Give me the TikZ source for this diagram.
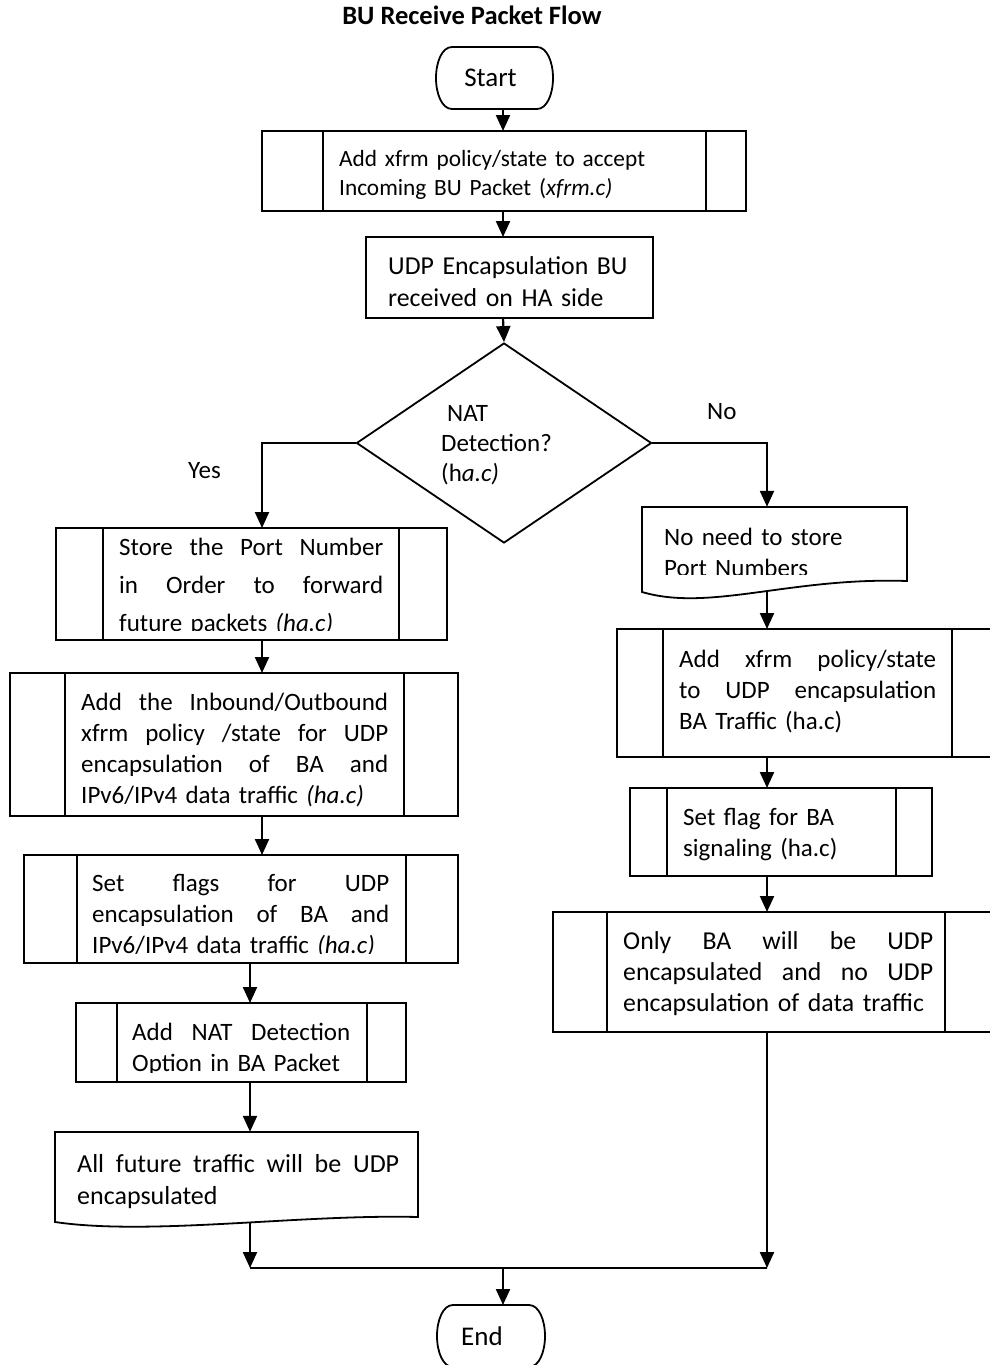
\documentclass[tikz,border=0pt]{standalone}
\usepackage{fontspec}
\setmainfont{Carlito}
\usetikzlibrary{arrows.meta,shapes.geometric}

% one justified line: the spaces stretch to fill the text width
\newcommand\jline[1]{\leavevmode\hbox to \linewidth{\spaceskip=0.22em plus 1fil\relax#1}\\}

% predefined-process box: name, left, top, right, bottom, inner left, inner right
\newcommand\procbox[7]{%
  \node[boxshape, minimum width={#4-#2}, minimum height={#5-#3}] (#1) at ({(#2+#4)/2},{(#3+#5)/2}) {};
  \draw[boxline] (#1.north -| #6,0) -- (#1.south -| #6,0)
                 (#1.north -| #7,0) -- (#1.south -| #7,0);}

% terminal outline with bulging ends
\newcommand\termoutline[1]{%
  \draw[boxline] ([xshift=16pt]#1.north west) -- ([xshift=-16pt]#1.north east)
    .. controls ([xshift=-6pt]#1.north east) and ([yshift=16pt]#1.east) .. (#1.east)
    .. controls ([yshift=-16pt]#1.east) and ([xshift=-6pt]#1.south east) .. ([xshift=-16pt]#1.south east)
    -- ([xshift=16pt]#1.south west)
    .. controls ([xshift=6pt]#1.south west) and ([yshift=-16pt]#1.west) .. (#1.west)
    .. controls ([yshift=16pt]#1.west) and ([xshift=6pt]#1.north west) .. cycle;}

\tikzset{
  boxline/.style={line width=1.8pt, line join=miter},
  boxshape/.style={draw, rectangle, boxline, inner sep=0pt, outer sep=0pt},
  flowline/.style={line width=2.2pt},
  arr/.style={flowline, -{Triangle[length=16pt,width=14pt]}},
  txt/.style={inner sep=0pt, anchor=base west, align=left,
              font=\fontsize{25}{31}\selectfont},
  termtext/.style={inner sep=0pt, outer sep=0pt, rectangle,
              font=\fontsize{27}{32}\selectfont},
}

\begin{document}
\begin{tikzpicture}[x=1pt, y=-1pt]
\fill[white] (0,0) rectangle (990,1365);
\useasboundingbox (0,0) rectangle (990,1365);

% connector columns and junction points
\coordinate (colM) at (503,0);
\coordinate (colY) at (262,0);
\coordinate (colL) at (250,0);
\coordinate (colR) at (767,0);
\coordinate (mergeL) at (250,1268);
\coordinate (mergeR) at (767,1268);

% title
\node[anchor=base, inner sep=0pt, font=\bfseries\fontsize{26.5}{30}\selectfont] (title) at (472,24) {BU Receive Packet Flow};

% start
\node[termtext, minimum width=117, minimum height=62] (start) at (494.5,78) {\hspace*{-8pt}Start};
\termoutline{start}

% main column
\procbox{b1}{262}{131}{746}{211}{323}{706}
\node[txt, text width=370pt, font=\fontsize{23.3}{29.5}\selectfont] (t1) at (339,166)
  {Add xfrm policy/state to accept\\Incoming BU Packet (\textit{xfrm.c)}};

\node[boxshape, minimum width=287, minimum height=81] (b2) at (509.5,277.5) {};
\node[txt, text width=260pt, font=\fontsize{25.8}{32}\selectfont] (t2) at (388,274) {UDP Encapsulation BU\\received on HA side};

% decision
\node[draw, diamond, boxline, inner sep=0pt, minimum width=295, minimum height=200] (dia) at (504,443) {};
\node[txt, text width=120pt, font=\fontsize{25}{30}\selectfont] (tdia) at (441,421)
  {\hspace*{6pt}NAT\\Detection?\\(h\textit{a.c)}};
\node[txt] (yes) at (188,478) {Yes};
\node[txt] (no) at (707,419) {No};

% left branch
\procbox{b3}{56}{528}{447}{640}{103}{399}
\begin{scope}
  \clip (b3.north west) rectangle ([yshift=10pt]b3.south east);
  \node[txt, text width=264pt, font=\fontsize{25}{38}\selectfont] (t3) at (119,555)
    {\jline{Store the Port Number}\jline{in Order to forward}future packets \textit{(ha.c)}};
\end{scope}

\procbox{b4}{10}{673}{458}{816}{65}{404}
\begin{scope}
  \clip (b4.north west) rectangle ([yshift=9pt]b4.south east);
  \node[txt, text width=307pt] (t4) at (81,710)
    {\jline{Add the Inbound/Outbound}\jline{xfrm policy /state for UDP}\jline{encapsulation of BA and}IPv6/IPv4 data traffic \textit{(ha.c)}};
\end{scope}

\procbox{b5}{24}{855}{458}{963}{77}{406}
\begin{scope}
  \clip (b5.north west) rectangle ([yshift=10pt]b5.south east);
  \node[txt, text width=297pt] (t5) at (92,891)
    {\jline{Set flags for UDP}\jline{encapsulation of BA and}IPv6/IPv4 data traffic \textit{(ha.c)}};
\end{scope}

\procbox{b6}{76}{1003}{406}{1082}{117}{367}
\begin{scope}
  \clip (b6.north west) rectangle ([yshift=10pt]b6.south east);
  \node[txt, text width=218pt] (t6) at (132,1040)
    {\jline{Add NAT Detection}Option in BA Packet};
\end{scope}

\node[inner sep=0pt, minimum width=363, minimum height=90] (docL) at (236.5,1177) {};
\draw[boxline] (55,1132) -- (418,1132) -- (418,1217)
  .. controls (300,1214) and (150,1236) .. (55,1222) -- cycle;
\node[txt, text width=322pt, font=\fontsize{26}{32}\selectfont] (tdocL) at (77,1172) {\jline{All future traffic will be UDP}encapsulated};

% right branch
\node[inner sep=0pt, minimum width=265, minimum height=83] (docR) at (774.5,548.5) {};
\draw[boxline] (642,507) -- (907,507) -- (907,581)
  .. controls (790,577) and (710,612) .. (642,592) -- cycle;
\begin{scope}
  \clip (642,507) rectangle (907,574);
  \node[txt, text width=230pt] (tdocR) at (664,545) {No need to store\\Port Numbers};
\end{scope}

\procbox{r1}{617}{629}{998}{757}{663}{952}
\node[txt, text width=257pt] (tr1) at (679,667)
  {\jline{Add xfrm policy/state}\jline{to UDP encapsulation}BA Traffic (ha.c)};

\procbox{r2}{630}{788}{932}{876}{667}{896}
\node[txt, text width=200pt] (tr2) at (683,825) {Set flag for BA\\signaling (ha.c)};

\procbox{r3}{553}{912}{999}{1032}{607}{945}
\node[txt, text width=310pt, font=\fontsize{25.8}{31}\selectfont] (tr3) at (623,949)
  {\jline{Only BA will be UDP}\jline{encapsulated and no UDP}encapsulation of data traffic};

% end
\node[termtext, minimum width=108, minimum height=62] (finish) at (491,1336) {\hspace*{-18pt}End};
\termoutline{finish}

% connectors
\draw[arr] (start.south -| colM) -- (b1.north -| colM);
\draw[arr] (b1.south -| colM) -- (b2.north -| colM);
\draw[arr] (b2.south -| colM) -- (dia.north);
\draw[arr] (dia.west) -| (b3.north -| colY);
\draw[arr] (dia.east) -| (docR.north -| colR);
\draw[arr] (b3.south -| colY) -- (b4.north -| colY);
\draw[arr] (b4.south -| colY) -- (b5.north -| colY);
\draw[arr] (b5.south -| colL) -- (b6.north -| colL);
\draw[arr] (b6.south -| colL) -- (docL.north -| colL);
\draw[arr] (docL.south -| colL) -- (mergeL);
\draw[arr] (docR.south -| colR) -- (r1.north -| colR);
\draw[arr] (r1.south -| colR) -- (r2.north -| colR);
\draw[arr] (r2.south -| colR) -- (r3.north -| colR);
\draw[arr] (r3.south -| colR) -- (mergeR);
\draw[flowline] (mergeL) -- (mergeR);
\draw[arr] (mergeL -| colM) -- (finish.north -| colM);
\end{tikzpicture}
\end{document}
